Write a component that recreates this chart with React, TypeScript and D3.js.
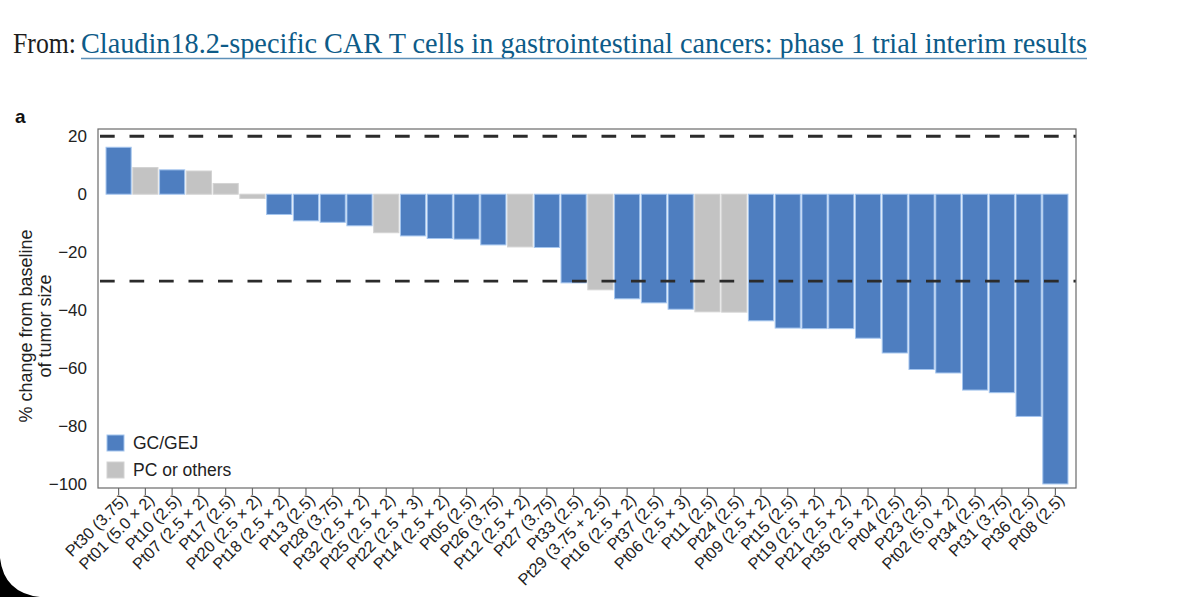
import React from 'react';
import * as d3 from 'd3';

// patients, in the order of the waterfall
const patients = [
  'Pt30', 'Pt01', 'Pt10', 'Pt07', 'Pt17', 'Pt20', 'Pt18', 'Pt13', 'Pt28',
  'Pt32', 'Pt25', 'Pt22', 'Pt14', 'Pt05', 'Pt26', 'Pt12', 'Pt27', 'Pt33',
  'Pt29', 'Pt16', 'Pt37', 'Pt06', 'Pt11', 'Pt24', 'Pt09', 'Pt15', 'Pt19',
  'Pt21', 'Pt35', 'Pt04', 'Pt23', 'Pt02', 'Pt34', 'Pt31', 'Pt36', 'Pt08',
];

const doses = [
  '3.75', '5.0 × 2', '2.5', '2.5 × 2', '2.5', '2.5 × 2', '2.5 × 2', '2.5', '3.75',
  '2.5 × 2', '2.5 × 2', '2.5 × 3', '2.5 × 2', '2.5', '3.75', '2.5 × 2', '3.75', '2.5',
  '3.75 + 2.5', '2.5 × 2', '2.5', '2.5 × 3', '2.5', '2.5', '2.5 × 2', '2.5', '2.5 × 2',
  '2.5 × 2', '2.5 × 2', '2.5', '2.5', '5.0 × 2', '2.5', '3.75', '2.5', '2.5',
];

// % change from baseline of tumor size
const changes = [
  16.2, 9.2, 8.4, 8.0, 3.7, -1.5, -7.0, -9.2, -9.7,
  -10.9, -13.3, -14.4, -15.3, -15.5, -17.5, -18.2, -18.4, -30.6,
  -33.0, -36.1, -37.5, -39.7, -40.6, -40.7, -43.7, -46.2, -46.4,
  -46.4, -49.7, -54.8, -60.5, -61.7, -67.6, -68.5, -76.7, -100,
];

// 0 = GC/GEJ, 1 = PC or others
const groups = [
  0, 1, 0, 1, 1, 1, 0, 0, 0,
  0, 1, 0, 0, 0, 0, 1, 0, 0,
  1, 0, 0, 0, 1, 1, 0, 0, 0,
  0, 0, 0, 0, 0, 0, 0, 0, 0,
];

const legendLabels = ['GC/GEJ', 'PC or others'];
const yTicks = [20, 0, -20, -40, -60, -80, -100];
const thresholds = [20, -30];

const fills = ['#4e7ec0', '#c3c3c3'];
const strokes = ['#a4c5ee', '#d3d3d3'];

const W = 1200;
const H = 597;
const frame = { left: 98, right: 1076, top: 129, bottom: 488 };
const sans = '"Liberation Sans", Arial, Helvetica, sans-serif';

export default function App() {
  const x = d3
    .scaleBand<string>()
    .domain(patients)
    .range([frame.left, frame.right])
    .paddingInner(0.06)
    .paddingOuter(0.3);

  const y = d3.scaleLinear().domain([-101.4, 22.5]).range([frame.bottom, frame.top]);
  const fmt = d3.format('d');

  return (
    <svg
      width={W}
      height={H}
      viewBox={`0 0 ${W} ${H}`}
      style={{ position: 'absolute', left: 0, top: 0, background: '#fff' }}
    >
      {/* title */}
      <text y={53} fontFamily='"Liberation Serif", "DejaVu Serif", serif' fontSize={30}>
        <tspan x={13} fill="#1d1d1d" textLength={63} lengthAdjust="spacingAndGlyphs">
          From:
        </tspan>
        <tspan x={81} fill="#0d5b88" textLength={1006} lengthAdjust="spacingAndGlyphs">
          Claudin18.2-specific CAR T cells in gastrointestinal cancers: phase 1 trial interim results
        </tspan>
      </text>
      <line x1={81} x2={1087} y1={58.5} y2={58.5} stroke="#5d90b8" strokeWidth={1.6} />

      {/* panel letter */}
      <text x={15} y={123} fontFamily={sans} fontWeight="bold" fontSize={19} fill="#111">
        a
      </text>

      {/* bars */}
      {patients.map((p, i) => {
        const v = changes[i];
        const g = groups[i];
        return (
          <rect
            key={p}
            x={x(p)}
            width={x.bandwidth()}
            y={y(Math.max(0, v))}
            height={Math.abs(y(v) - y(0))}
            fill={fills[g]}
            stroke={strokes[g]}
            strokeWidth={1}
          />
        );
      })}

      {/* threshold lines */}
      {thresholds.map((t) => (
        <line
          key={t}
          x1={frame.left + 2}
          x2={frame.right}
          y1={y(t)}
          y2={y(t)}
          stroke="#2b2b2b"
          strokeWidth={2.8}
          strokeDasharray="14.7 14.8"
        />
      ))}

      {/* frame */}
      <rect
        x={frame.left}
        y={frame.top}
        width={frame.right - frame.left}
        height={frame.bottom - frame.top}
        fill="none"
        stroke="#6a6a6a"
        strokeWidth={1.2}
      />

      {/* y axis */}
      {yTicks.map((t) => (
        <text
          key={t}
          x={87}
          y={y(t)}
          dy="0.36em"
          textAnchor="end"
          fontFamily={sans}
          fontSize={17}
          fill="#222"
        >
          {fmt(t)}
        </text>
      ))}
      <text
        transform={`translate(26, 326) rotate(-90)`}
        textAnchor="middle"
        fontFamily={sans}
        fontSize={18}
        fill="#222"
      >
        <tspan x={0} dy="0.35em">% change from baseline</tspan>
        <tspan x={0} dy="1.04em">of tumor size</tspan>
      </text>

      {/* x axis ticks and labels */}
      {patients.map((p, i) => {
        const cx = (x(p) ?? 0) + x.bandwidth() / 2;
        return (
          <g key={p}>
            <line x1={cx} x2={cx} y1={frame.bottom} y2={frame.bottom + 7} stroke="#6a6a6a" strokeWidth={1.2} />
            <text
              transform={`translate(${cx + 6}, 497) rotate(-45)`}
              textAnchor="end"
              dy="0.35em"
              fontFamily={sans}
              fontSize={16.2}
              fill="#222"
            >
              {`${p} (${doses[i]})`}
            </text>
          </g>
        );
      })}

      {/* legend */}
      {legendLabels.map((l, i) => (
        <g key={l} transform={`translate(107, ${435 + i * 27})`}>
          <rect width={17} height={16} fill={fills[i]} stroke={strokes[i]} strokeWidth={1} />
          <text x={26} y={8} dy="0.36em" fontFamily={sans} fontSize={17.5} fill="#222">
            {l}
          </text>
        </g>
      ))}

      {/* dark rounded corner of the screenshot */}
      <path d="M0,558 Q4,593 40,597 L0,597 Z" fill="#000" />
    </svg>
  );
}
